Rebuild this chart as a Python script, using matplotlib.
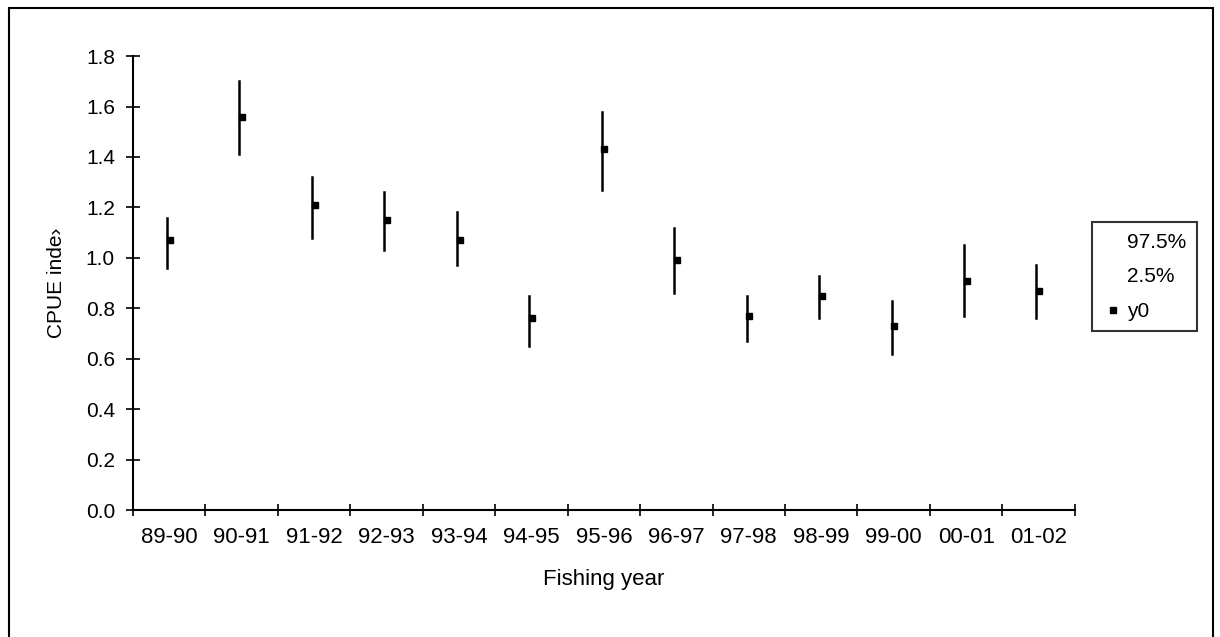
import matplotlib.pyplot as plt
from matplotlib.lines import Line2D
from matplotlib.patches import Rectangle

years = ['89-90', '90-91', '91-92', '92-93', '93-94', '94-95', '95-96',
         '96-97', '97-98', '98-99', '99-00', '00-01', '01-02']
upper = [1.16, 1.70, 1.32, 1.26, 1.18, 0.85, 1.58, 1.12, 0.85, 0.93, 0.83, 1.05, 0.97]
lower = [0.96, 1.41, 1.08, 1.03, 0.97, 0.65, 1.27, 0.86, 0.67, 0.76, 0.62, 0.77, 0.76]
y0 = [1.07, 1.56, 1.21, 1.15, 1.07, 0.76, 1.43, 0.99, 0.77, 0.85, 0.73, 0.91, 0.87]

plt.rcParams['font.family'] = ['Liberation Sans', 'DejaVu Sans']

fig = plt.figure(figsize=(12.2, 6.37), dpi=100)
ax = fig.add_axes([0.109, 0.199, 0.772, 0.713])

# outer frame of the chart area
fig.patches.append(Rectangle((0.007, -0.01), 0.987, 0.997, transform=fig.transFigure,
                             fill=False, edgecolor='black', linewidth=1.5))

n = len(years)
x = [i + 0.5 for i in range(n)]
for xi, lo, hi in zip(x, lower, upper):
    ax.plot([xi - 0.03, xi - 0.03], [lo, hi], color='black', linewidth=1.8)
ax.plot([xi + 0.008 for xi in x], y0, linestyle='none', marker='s',
        markersize=5, color='black')

ax.set_xlim(0, n)
ax.set_ylim(0, 1.8)
ax.set_xticks(range(n + 1))
ax.set_xticklabels([])
ax.set_xticks(x, minor=True)
ax.set_xticklabels(years, minor=True, fontsize=16)
ax.tick_params(axis='x', which='minor', length=0, pad=12)
ax.tick_params(axis='x', which='major', direction='inout', length=8, width=1.2)
ax.set_yticks([0.2 * i for i in range(10)])
ax.set_yticklabels(['%.1f' % (0.2 * i) for i in range(10)], fontsize=15)
ax.tick_params(axis='y', direction='inout', length=10, width=1.2, pad=8)

for side in ['top', 'right']:
    ax.spines[side].set_visible(False)
ax.spines['left'].set_linewidth(1.5)
ax.spines['bottom'].set_linewidth(1.5)

ax.set_xlabel('Fishing year', fontsize=16, labelpad=15)
ax.set_ylabel('CPUE inde›', fontsize=15, labelpad=14)

handles = [Line2D([], [], linestyle='none'),
           Line2D([], [], linestyle='none'),
           Line2D([], [], linestyle='none', marker='s', markersize=5, color='black')]
leg = fig.legend(handles, ['97.5%', '2.5%', 'y0'], loc='upper left',
                 bbox_to_anchor=(0.895, 0.651), borderaxespad=0, fontsize=15,
                 frameon=True, fancybox=False, edgecolor='black', handlelength=1.0,
                 handletextpad=0.2, labelspacing=0.75, borderpad=0.5)
leg.get_frame().set_linewidth(1.5)

fig.savefig('out.png', dpi=100)
